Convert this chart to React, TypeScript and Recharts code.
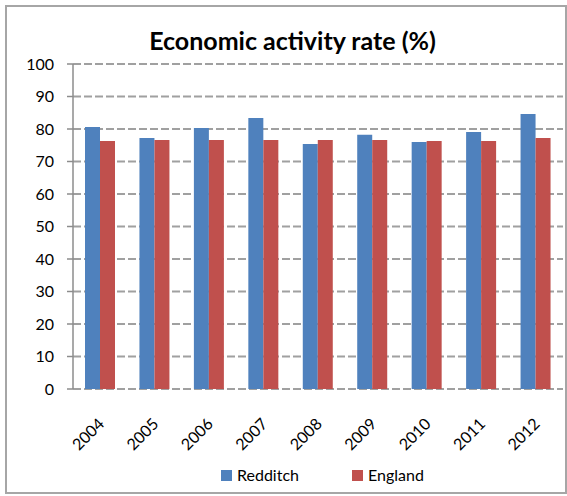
import React from 'react';
import { BarChart, Bar, XAxis, YAxis, CartesianGrid, Legend } from 'recharts';

const years = ['2004', '2005', '2006', '2007', '2008', '2009', '2010', '2011', '2012'];
const redditch = [80.6, 77.2, 80.3, 83.4, 75.4, 78.2, 76.0, 79.1, 84.6];
const england = [76.3, 76.6, 76.6, 76.6, 76.6, 76.6, 76.3, 76.3, 77.2];
const yTicks = [0, 10, 20, 30, 40, 50, 60, 70, 80, 90, 100];
const boundaryTicks = [0, 1, 2, 3, 4, 5, 6, 7, 8, 9];

const data = years.map((y, i) => ({ year: y, Redditch: redditch[i], England: england[i] }));

const FONT = 'Lato, "Open Sans", sans-serif';
const BLUE = '#4F81BD';
const RED = '#C0504D';

const YearTick = (props: any) => {
  const { x, y, payload } = props;
  return (
    <g transform={`translate(${x + 5},${y + 28})`}>
      <text x={0} y={0} textAnchor="end" transform="rotate(-45)" fontFamily={FONT} fontSize={16} fill="#000">
        {payload.value}
      </text>
    </g>
  );
};

const LegendContent = () => (
  <div
    style={{
      height: 62,
      position: 'relative',
      fontFamily: FONT,
      fontSize: 16,
      color: '#000',
    }}
  >
    {[
      { name: 'Redditch', color: BLUE, left: 221 },
      { name: 'England', color: RED, left: 352 },
    ].map((it) => (
      <div
        key={it.name}
        style={{ position: 'absolute', left: it.left, top: 31, display: 'flex', alignItems: 'center', height: 20, lineHeight: '20px', whiteSpace: 'nowrap' }}
      >
        <span style={{ display: 'inline-block', width: 11, height: 11, background: it.color, marginRight: 5 }} />
        <span>{it.name}</span>
      </div>
    ))}
  </div>
);

export default function App() {
  return (
    <div style={{ position: 'absolute', left: 0, top: 0, width: 567, height: 496, background: '#fff', overflow: 'hidden' }}>
      <BarChart
        width={567}
        height={496}
        data={data}
        margin={{ top: 64, right: 4, bottom: 0, left: 0 }}
        barCategoryGap={12}
        barGap={0}
      >
        <CartesianGrid vertical={false} stroke="#a0a0a0" strokeWidth={2} strokeDasharray="8 3" xAxisId="cat" />
        <XAxis
          xAxisId="edge"
          type="number"
          dataKey={() => 0}
          domain={[0, 9]}
          ticks={boundaryTicks}
          tick={false}
          height={0}
          axisLine={{ stroke: '#8c8c8c', strokeWidth: 1.5 }}
          tickLine={{ stroke: '#8c8c8c', strokeWidth: 1.5 }}
          tickSize={6}
        />
        <XAxis xAxisId="cat" dataKey="year" axisLine={false} tickLine={false} height={45} tick={<YearTick />} interval={0} />
        <YAxis
          width={73}
          domain={[0, 100]}
          ticks={yTicks}
          interval={0}
          axisLine={{ stroke: '#8c8c8c', strokeWidth: 1.5 }}
          tickLine={{ stroke: '#8c8c8c', strokeWidth: 1.5 }}
          tickSize={6}
          tickMargin={13}
          tick={{ fontFamily: FONT, fontSize: 16, fill: '#000' }}
        />
        <Bar xAxisId="cat" dataKey="Redditch" fill={BLUE} isAnimationActive={false} />
        <Bar xAxisId="cat" dataKey="England" fill={RED} isAnimationActive={false} />
        <Legend verticalAlign="bottom" height={62} content={<LegendContent />} wrapperStyle={{ left: 0, width: 567 }} />
      </BarChart>
      <div
        style={{
          position: 'absolute',
          left: 5,
          top: 5,
          width: 558,
          height: 485,
          border: '2px solid #a6a6a6',
          pointerEvents: 'none',
        }}
      />
      <div
        style={{
          position: 'absolute',
          left: 5,
          top: 25,
          width: 575,
          textAlign: 'center',
          fontFamily: FONT,
          fontWeight: 'bold',
          fontSize: 25,
          lineHeight: '30px',
          color: '#000',
        }}
      >
        Economic activity rate (%)
      </div>
    </div>
  );
}
